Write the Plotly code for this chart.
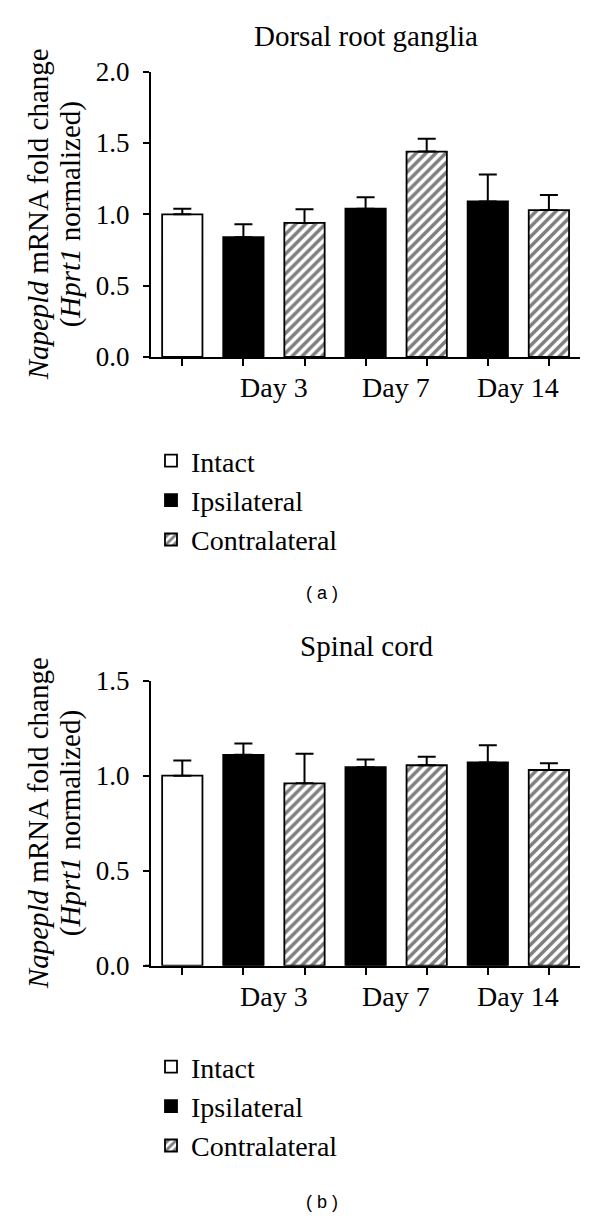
import plotly.graph_objects as go

W, H = 600, 1217

# ---------------- data ----------------
groups = ["Intact", "Ipsilateral", "Contralateral"]
day_labels = ["Day 3", "Day 7", "Day 14"]
pos_intact = [0]
pos_ipsi = [1, 3, 5]
pos_contra = [2, 4, 6]
day_label_pos = [1.5, 3.5, 5.5]
all_ticks = [0, 1, 2, 3, 4, 5, 6]

# (a) Dorsal root ganglia
drg_intact = [1.00]
drg_intact_err = [0.04]
drg_ipsi = [0.84, 1.04, 1.09]
drg_ipsi_err = [0.09, 0.08, 0.19]
drg_contra = [0.94, 1.44, 1.03]
drg_contra_err = [0.095, 0.09, 0.105]

# (b) Spinal cord
sc_intact = [1.00]
sc_intact_err = [0.08]
sc_ipsi = [1.11, 1.045, 1.07]
sc_ipsi_err = [0.06, 0.04, 0.09]
sc_contra = [0.96, 1.055, 1.03]
sc_contra_err = [0.155, 0.045, 0.035]

SERIF = "Liberation Serif"
SANS = "Liberation Sans"


def px(x):
    return x / W


def py(y):
    return 1 - y / H


def bar(x, y, err, name, style, xa, ya, leg):
    if style == "white":
        marker = dict(color="white", line=dict(color="black", width=1.8))
    elif style == "black":
        marker = dict(color="black", line=dict(color="black", width=1.8))
    else:
        marker = dict(color="white", line=dict(color="black", width=1.8),
                      pattern=dict(shape="/", fgcolor="black", bgcolor="white",
                                   size=7, solidity=0.5, fillmode="overlay"))
    return go.Bar(
        x=x, y=y, name=name, marker=marker, width=0.66,
        xaxis=xa, yaxis=ya, legend=leg, showlegend=True,
        error_y=dict(type="data", array=err, arrayminus=[0] * len(err),
                     symmetric=False, color="black", thickness=2, width=9),
    )


fig = go.Figure()
fig.add_trace(bar(pos_intact, drg_intact, drg_intact_err, groups[0], "white", "x", "y", "legend"))
fig.add_trace(bar(pos_ipsi, drg_ipsi, drg_ipsi_err, groups[1], "black", "x", "y", "legend"))
fig.add_trace(bar(pos_contra, drg_contra, drg_contra_err, groups[2], "hatch", "x", "y", "legend"))
fig.add_trace(bar(pos_intact, sc_intact, sc_intact_err, groups[0], "white", "x2", "y2", "legend2"))
fig.add_trace(bar(pos_ipsi, sc_ipsi, sc_ipsi_err, groups[1], "black", "x2", "y2", "legend2"))
fig.add_trace(bar(pos_contra, sc_contra, sc_contra_err, groups[2], "hatch", "x2", "y2", "legend2"))

# geometry (pixels)
X0, X1 = 151, 580
A_TOP, A_BOT = 71.7, 357.0
B_TOP, B_BOT = 680.7, 965.7
XR = [(X0 - 182.3) / 61.1, (X1 - 182.3) / 61.1]

xax = dict(range=XR, domain=[px(X0), px(X1)], showline=True, linecolor="black",
           linewidth=2, ticks="outside", ticklen=7, tickwidth=2, tickcolor="black",
           tickvals=all_ticks, showticklabels=False, showgrid=False, zeroline=False,
           fixedrange=True, automargin=False)
yax = dict(showline=True, linecolor="black", linewidth=2, ticks="outside",
           ticklen=6, tickwidth=2, tickcolor="black", dtick=0.5, tickformat=".1f",
           showgrid=False, zeroline=False, ticklabelstandoff=8, automargin=False,
           fixedrange=True, tickfont=dict(family=SERIF, size=27, color="black"))

fig.update_layout(
    width=W, height=H, margin=dict(l=0, r=0, t=0, b=0, autoexpand=False),
    paper_bgcolor="white", plot_bgcolor="white", barmode="overlay",
    xaxis=dict(xax, anchor="y"),
    yaxis=dict(yax, range=[0, 2.0], domain=[py(A_BOT), py(A_TOP)], anchor="x"),
    xaxis2=dict(xax, anchor="y2"),
    yaxis2=dict(yax, range=[0, 1.5], domain=[py(B_BOT), py(B_TOP)], anchor="x2"),
    legend=dict(x=px(151), y=py(436), xanchor="left", yanchor="top",
                font=dict(family=SERIF, size=28, color="black"),
                bgcolor="rgba(0,0,0,0)", tracegroupgap=0),
    legend2=dict(x=px(151), y=py(1042), xanchor="left", yanchor="top",
                 font=dict(family=SERIF, size=28, color="black"),
                 bgcolor="rgba(0,0,0,0)", tracegroupgap=0),
)

# x-axis stub extending slightly left of y axis
for bot in (A_BOT, B_BOT):
    fig.add_shape(type="line", xref="paper", yref="paper",
                  x0=px(145), x1=px(X0), y0=py(bot), y1=py(bot),
                  line=dict(color="black", width=2))

ann = []
# titles
ann.append(dict(text="Dorsal root ganglia", x=px(366), y=py(36), xref="paper", yref="paper",
                showarrow=False, xanchor="center", yanchor="middle",
                font=dict(family=SERIF, size=29, color="black")))
ann.append(dict(text="Spinal cord", x=px(366), y=py(646), xref="paper", yref="paper",
                showarrow=False, xanchor="center", yanchor="middle",
                font=dict(family=SERIF, size=29, color="black")))
# day labels
for xa, ylab in (("x", 387), ("x2", 996)):
    for p, t in zip(day_label_pos, day_labels):
        ann.append(dict(text=t, x=p, y=py(ylab), xref=xa, yref="paper", showarrow=False,
                        xanchor="center", yanchor="middle",
                        font=dict(family=SERIF, size=28, color="black")))
# y-axis titles
for top, bot in ((A_TOP, A_BOT), (B_TOP, B_BOT)):
    yc = py((top + bot) / 2)
    ann.append(dict(text="<i>Napepld</i> mRNA fold change", x=px(38), y=yc,
                    xref="paper", yref="paper", textangle=-90, showarrow=False,
                    xanchor="center", yanchor="middle",
                    font=dict(family=SERIF, size=29, color="black")))
    ann.append(dict(text="(<i>Hprt1</i> normalized)", x=px(70), y=yc,
                    xref="paper", yref="paper", textangle=-90, showarrow=False,
                    xanchor="center", yanchor="middle",
                    font=dict(family=SERIF, size=29, color="black")))
# captions
ann.append(dict(text="( a )", x=px(322), y=py(593), xref="paper", yref="paper",
                showarrow=False, xanchor="center", yanchor="middle",
                font=dict(family=SANS, size=18, color="black")))
ann.append(dict(text="( b )", x=px(322), y=py(1202), xref="paper", yref="paper",
                showarrow=False, xanchor="center", yanchor="middle",
                font=dict(family=SANS, size=18, color="black")))
fig.update_layout(annotations=ann)

fig.write_html("out.html", config={"displayModeBar": False},
               post_script="document.body.style.margin='0';document.body.style.overflow='hidden';")
